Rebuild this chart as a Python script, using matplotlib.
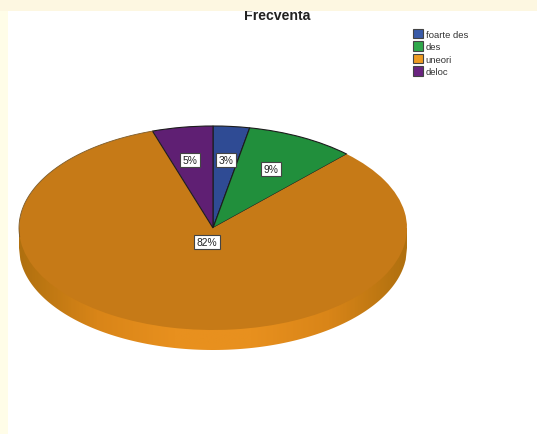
"""Frequency pie chart with a raised, elliptical look."""
import numpy as np

import matplotlib
matplotlib.use("Agg")
import matplotlib.pyplot as plt
from matplotlib.colors import LinearSegmentedColormap
from matplotlib.patches import Patch, Polygon, Rectangle

W, H = 537, 435

categories = ["foarte des", "des", "uneori", "deloc"]
percent = [3, 9, 82, 5]
top_colors = ["#2F4B94", "#218F3C", "#C67A17", "#5F1F73"]
legend_colors = ["#3A5BA8", "#2FA84B", "#EE9B22", "#6A2480"]
edge_colors = ["#1c1c1c", "#1c1c1c", "none", "#1c1c1c"]

plt.rcParams["font.family"] = ["Liberation Sans", "DejaVu Sans"]

fig = plt.figure(figsize=(W / 100, H / 100), dpi=100, facecolor="white")


def px_axes(left, top, width, height):
    return fig.add_axes([left / W, 1 - (top + height) / H, width / W, height / H])


cx, cy, rx, ry = 213, 229, 194, 102
rim_px = 20
depth = rim_px / ry

# one extra pixel all round so the outline is not cut by the axes
ax = px_axes(cx - rx - 1, cy - ry - 1, 2 * rx + 2, 2 * ry + rim_px + 2)
wedges, _ = ax.pie(percent, colors=top_colors, startangle=90, counterclock=False,
                   radius=1, center=(0, 0), wedgeprops={"linewidth": 0.8, "zorder": 3})
for wedge, ec in zip(wedges, edge_colors):
    wedge.set_edgecolor(ec)

# the orange slice only gets a thin line along its upper left rim
theta = np.radians(np.linspace(108, 185, 120))
ax.plot(np.cos(theta), np.sin(theta), color="#7a5a2a", lw=0.6, zorder=4)

# rim of the disc, shaded darker toward both ends
rim_cmap = LinearSegmentedColormap.from_list(
    "rim", ["#B0700F", "#D98518", "#E8901E", "#E8901E", "#D98518", "#B0700F"])
xs = np.linspace(-1, 1, 300)
lower = -np.sqrt(np.clip(1 - xs ** 2, 0, 1))
rim = Polygon(np.column_stack([np.r_[xs, xs[::-1]], np.r_[lower - depth, np.zeros(300)]]),
              fc="none", ec="none")
ax.add_patch(rim)
img = ax.imshow(xs[None, :], extent=(-1, 1, -1 - depth, 0), cmap=rim_cmap, aspect="auto", zorder=2)
img.set_clip_path(rim)

ax.set_aspect("auto")
ax.set_xlim(-1 - 1 / rx, 1 + 1 / rx)
ax.set_ylim(-1 - depth - 1 / ry, 1 + 1 / ry)

# percentage tags, placed by hand in pixel space
tag_pos = [(226, 161), (271, 170), (207, 243), (190, 161)]
for v, (px, py) in zip(percent, tag_pos):
    fig.text(px / W, 1 - py / H, f"{v}%", ha="center", va="center", fontsize=7.4,
             color="#222222", zorder=10,
             bbox={"boxstyle": "square,pad=0.24", "fc": "white", "ec": "#444444", "lw": 0.8})

fig.text(277 / W, 1 - 16 / H, "Frecventa", ha="center", va="center", fontsize=10.2,
         fontweight="bold", color="#222222", zorder=5)

# top band and left strip of the page sit over the chart area
fig.add_artist(Rectangle((0, 1 - 12 / H), 1, 12 / H, transform=fig.transFigure,
                         fc="#FDF7E1", ec="none", zorder=8))
fig.add_artist(Rectangle((0, 0), 8 / W, 1, transform=fig.transFigure,
                         fc="#FFFDE8", ec="none", zorder=7))

handles = [Patch(fc=c, ec="#444444", lw=0.8) for c in legend_colors]
fig.legend(handles, categories, loc="upper left", bbox_to_anchor=(413 / W, 1 - 30 / H),
           frameon=False, fontsize=6.8, labelspacing=0.29, handlelength=1.05,
           handleheight=1.1, handletextpad=0.3, borderpad=0, borderaxespad=0,
           labelcolor="#333333")

fig.savefig("out.png", dpi=100)
